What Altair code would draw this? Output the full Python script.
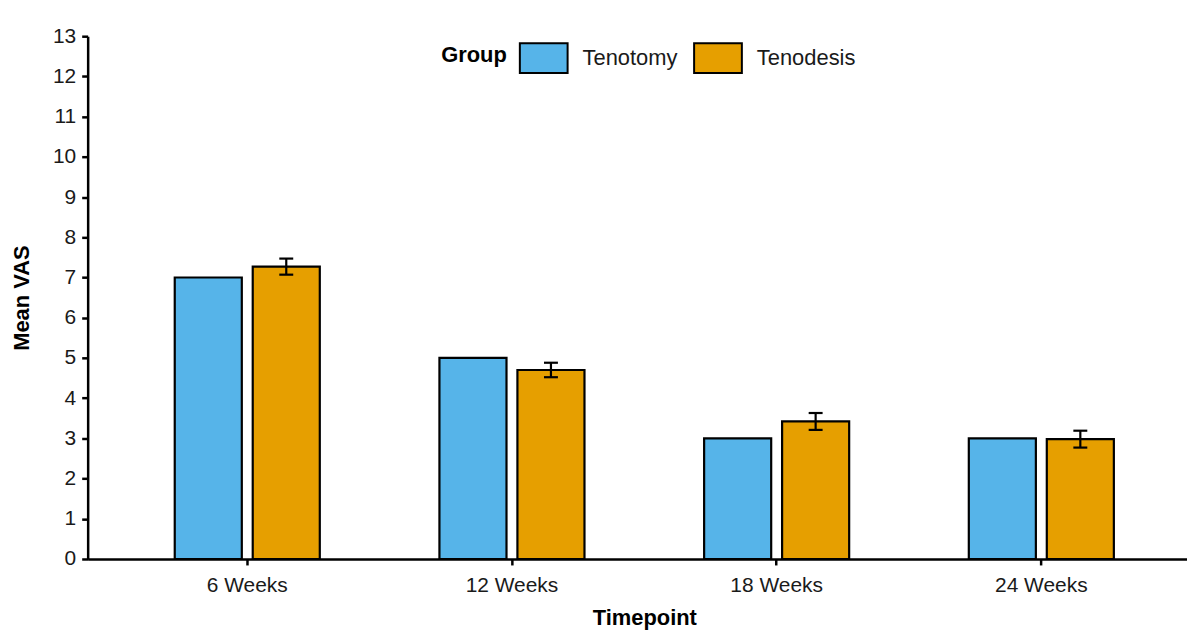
import altair as alt
import pandas as pd

timepoints = ["6 Weeks", "12 Weeks", "18 Weeks", "24 Weeks"]
groups = ["Tenotomy", "Tenodesis"]
tenotomy_mean = [7.0, 5.0, 3.0, 3.0]
tenodesis_mean = [7.27, 4.70, 3.42, 2.98]
tenodesis_err = [0.20, 0.18, 0.21, 0.21]
colors = ["#56B4E9", "#E69F00"]
y_ticks = list(range(0, 14))

rows = []
for i, t in enumerate(timepoints):
    rows.append({"Timepoint": t, "Group": "Tenotomy", "VAS": tenotomy_mean[i],
                 "lo": None, "hi": None})
    rows.append({"Timepoint": t, "Group": "Tenodesis", "VAS": tenodesis_mean[i],
                 "lo": tenodesis_mean[i] - tenodesis_err[i],
                 "hi": tenodesis_mean[i] + tenodesis_err[i]})
df = pd.DataFrame(rows)

FONT = "Liberation Sans"
FS = 21

x_scale = alt.Scale(range=[0, 1118], paddingInner=0.452, paddingOuter=0.329)
x_enc = alt.X("Timepoint:N", sort=timepoints, scale=x_scale,
              axis=alt.Axis(title="Timepoint", labelAngle=0, labelFontSize=FS,
                            titleFontSize=22, titleFontWeight="bold",
                            labelPadding=10, titlePadding=12, tickSize=6))
xoff = alt.XOffset("Group:N", sort=groups,
                   scale=alt.Scale(paddingInner=0.14, paddingOuter=0))
y_scale = alt.Scale(domain=[0, 13], nice=False)

bars = alt.Chart(df).mark_bar(stroke="black", strokeWidth=2.2).encode(
    x=x_enc,
    xOffset=xoff,
    y=alt.Y("VAS:Q", scale=y_scale,
            axis=alt.Axis(title="Mean VAS", values=y_ticks, labelFontSize=FS,
                          titleFontSize=22, titleFontWeight="bold",
                          tickSize=6, labelPadding=6, titlePadding=19, grid=False)),
    color=alt.Color("Group:N", sort=groups,
                    scale=alt.Scale(domain=groups, range=colors),
                    legend=alt.Legend(title="Group", orient="none", legendX=355,
                                      legendY=-3, direction="horizontal",
                                      titleOrient="left", titleFontSize=22,
                                      titleFontWeight="bold", labelFontSize=22,
                                      titleBaseline="middle",
                                      symbolType="M-1,-0.62H1V0.62H-1Z",
                                      symbolSize=2300, symbolStrokeColor="black",
                                      symbolStrokeWidth=2, symbolOpacity=1,
                                      labelOffset=14, columnPadding=12,
                                      titlePadding=12)),
)

err_df = alt.Chart(df).transform_filter("datum.lo != null")

rules = err_df.mark_rule(color="black", strokeWidth=2.2).encode(
    x=alt.X("Timepoint:N", sort=timepoints),
    xOffset=xoff,
    y=alt.Y("lo:Q", scale=y_scale),
    y2="hi:Q",
)
cap_lo = err_df.mark_tick(color="black", thickness=2.2, size=14, opacity=1).encode(
    x=alt.X("Timepoint:N", sort=timepoints),
    xOffset=xoff,
    y=alt.Y("lo:Q", scale=y_scale),
)
cap_hi = err_df.mark_tick(color="black", thickness=2.2, size=14, opacity=1).encode(
    x=alt.X("Timepoint:N", sort=timepoints),
    xOffset=xoff,
    y=alt.Y("hi:Q", scale=y_scale),
)

chart = alt.layer(bars, rules, cap_lo, cap_hi).properties(
    width=1104, height=525,
    autosize=alt.AutoSizeParams(type="none"),
    padding={"left": 80, "top": 27, "right": 0, "bottom": 70},
).configure(font=FONT).configure_view(stroke=None).configure_axis(
    domainColor="black", domainWidth=2.5, tickColor="black", tickWidth=2.5,
    labelColor="#1a1a1a", titleColor="black", labelFont=FONT, titleFont=FONT,
).configure_legend(labelFont=FONT, titleFont=FONT, labelColor="#1a1a1a",
                   titleColor="black")

chart.save("out.html", embed_options={"renderer": "svg", "actions": False})
